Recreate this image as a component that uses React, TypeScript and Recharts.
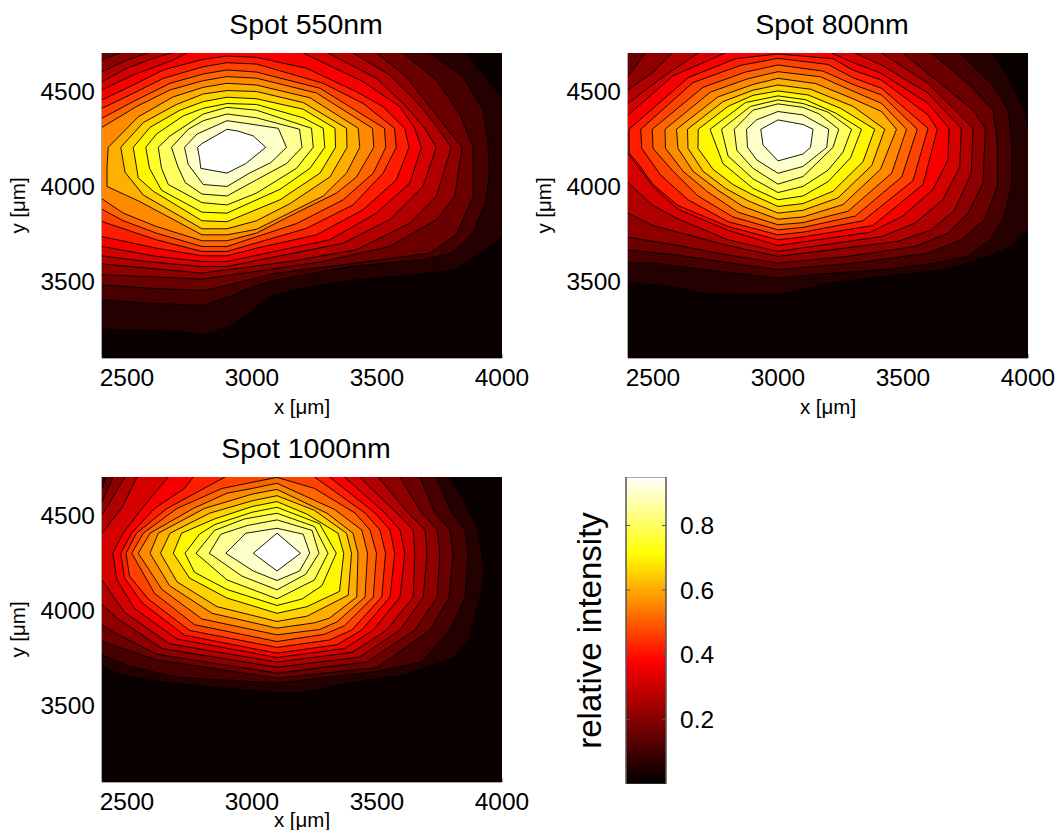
import { ScatterChart, Scatter, XAxis, YAxis, BarChart, Bar } from "recharts";

type Ring = number[][];

const FONT = "'Liberation Sans', Arial, sans-serif";
const X_TICKS = [2500, 3000, 3500, 4000];
const Y_TICKS = [3500, 4000, 4500];
const BAR_TICKS = [0.2, 0.4, 0.6, 0.8];

// band colours, outside of the lowest contour first
const BANDS = [
  "#0a0000", "#240000", "#470000", "#6a0000", "#8e0000", "#b10000", "#d50000",
  "#f80000", "#ff1d00", "#ff4200", "#ff6600", "#ff8a00", "#ffaf00", "#ffd300",
  "#fff800", "#ffff2a", "#ffff60", "#ffff95", "#ffffca", "#ffffff",
];

const plotArea: Ring = [[2300, 3000], [2300, 4800], [4100, 4800], [4100, 3000]];

// contours, lowest level first (points outside the box get clipped)
const spot550: Ring[] = [
  plotArea,
  [[2300, 4800], [3857, 4800], [3857, 4700], [3930, 4576], [3988, 4489], [4030, 4384], [4100, 4384], [4100, 3737], [4000, 3737], [3977, 3708], [3884, 3624], [3804, 3563], [3684, 3540], [3391, 3507], [3205, 3467], [3071, 3423], [3005, 3353], [2911, 3266], [2805, 3222], [2712, 3239], [2400, 3252], [2300, 3252]],
  [[2300, 4800], [3711, 4800], [3711, 4700], [3844, 4576], [3924, 4401], [3944, 4244], [3948, 4069], [3937, 3930], [3884, 3755], [3797, 3650], [3684, 3615], [3391, 3580], [3071, 3502], [2991, 3467], [2911, 3423], [2805, 3376], [2578, 3388], [2400, 3405], [2300, 3405]],
  [[2300, 4800], [3604, 4800], [3604, 4700], [3737, 4558], [3830, 4383], [3884, 4205], [3884, 3947], [3817, 3746], [3711, 3650], [3418, 3598], [3098, 3545], [2911, 3484], [2805, 3454], [2578, 3467], [2400, 3484], [2300, 3484]],
  [[2300, 4663], [2400, 4663], [2472, 4700], [2472, 4800], [3498, 4800], [3498, 4700], [3617, 4576], [3784, 4296], [3840, 4205], [3811, 3947], [3737, 3825], [3551, 3685], [3284, 3606], [2805, 3514], [2400, 3537], [2300, 3537]],
  [[2300, 4602], [2400, 4602], [2499, 4663], [2585, 4700], [2585, 4800], [3404, 4800], [3404, 4700], [3551, 4585], [3671, 4427], [3744, 4305], [3797, 4205], [3737, 3947], [3631, 3807], [3418, 3668], [3151, 3606], [2900, 3563], [2800, 3545], [2400, 3594], [2300, 3594]],
  [[2300, 4550], [2400, 4550], [2499, 4620], [2605, 4672], [2678, 4700], [2678, 4800], [3304, 4800], [3304, 4700], [3498, 4567], [3611, 4427], [3691, 4305], [3737, 4205], [3684, 4000], [3551, 3826], [3364, 3702], [2900, 3580], [2800, 3580], [2578, 3606], [2400, 3636], [2300, 3636]],
  [[2300, 4506], [2400, 4506], [2525, 4585], [2685, 4663], [2738, 4700], [2738, 4800], [3205, 4800], [3205, 4700], [3444, 4550], [3591, 4419], [3651, 4305], [3677, 4205], [3631, 4017], [3498, 3860], [3311, 3720], [2900, 3606], [2800, 3606], [2618, 3633], [2400, 3685], [2300, 3685]],
  [[2300, 4454], [2400, 4454], [2512, 4524], [2645, 4611], [2805, 4667], [2900, 4684], [3018, 4677], [3218, 4620], [3418, 4497], [3524, 4419], [3611, 4305], [3628, 4205], [3577, 4034], [3444, 3877], [3258, 3746], [3018, 3676], [2900, 3636], [2800, 3636], [2618, 3676], [2400, 3737], [2300, 3737]],
  [[2300, 4410], [2400, 4410], [2512, 4480], [2645, 4567], [2805, 4628], [2900, 4649], [3018, 4642], [3285, 4541], [3444, 4436], [3570, 4305], [3577, 4205], [3524, 4069], [3404, 3903], [3218, 3780], [2900, 3659], [2800, 3659], [2618, 3720], [2400, 3816], [2300, 3816]],
  [[2300, 4358], [2400, 4358], [2525, 4445], [2672, 4541], [2805, 4590], [2900, 4611], [3018, 4600], [3272, 4515], [3530, 4305], [3535, 4205], [3485, 4070], [3365, 3930], [3178, 3805], [2900, 3685], [2800, 3685], [2618, 3755], [2485, 3820], [2400, 3880], [2300, 3880]],
  [[2300, 4310], [2400, 4310], [2538, 4419], [2672, 4506], [2805, 4555], [2900, 4576], [3018, 4568], [3258, 4490], [3482, 4305], [3487, 4205], [3418, 4050], [3338, 3965], [3152, 3845], [3018, 3755], [2900, 3715], [2800, 3715], [2618, 3790], [2485, 3860], [2400, 3935], [2300, 3935]],
  [[2425, 4205], [2545, 4365], [2685, 4470], [2805, 4520], [2900, 4541], [3018, 4532], [3232, 4465], [3425, 4305], [3431, 4205], [3378, 4070], [3285, 3950], [3018, 3775], [2900, 3746], [2800, 3746], [2552, 3920], [2420, 4000], [2420, 4100]],
  [[2475, 4205], [2565, 4335], [2698, 4430], [2805, 4485], [2900, 4503], [3018, 4498], [3205, 4440], [3378, 4305], [3380, 4205], [3312, 4050], [3152, 3910], [3018, 3820], [2900, 3778], [2800, 3778], [2565, 3955], [2492, 4075]],
  [[2525, 4205], [2592, 4310], [2712, 4400], [2805, 4445], [2900, 4468], [3018, 4460], [3205, 4405], [3332, 4305], [3334, 4205], [3272, 4070], [3112, 3930], [2900, 3815], [2800, 3820], [2605, 3975], [2545, 4045]],
  [[2575, 4205], [2618, 4275], [2725, 4370], [2805, 4410], [2900, 4435], [3018, 4430], [3205, 4360], [3285, 4305], [3291, 4205], [3232, 4095], [3112, 3985], [2900, 3860], [2800, 3865], [2638, 3980], [2590, 4095]],
  [[2625, 4205], [2672, 4265], [2805, 4380], [2900, 4415], [3018, 4400], [3238, 4305], [3245, 4205], [3178, 4095], [3018, 3965], [2900, 3903], [2800, 3915], [2665, 4010], [2638, 4095]],
  [[2678, 4205], [2745, 4300], [2805, 4345], [2900, 4380], [3018, 4360], [3190, 4300], [3200, 4205], [3138, 4120], [3018, 4035], [2900, 3950], [2800, 3960], [2733, 4020], [2703, 4105]],
  [[2730, 4205], [2780, 4275], [2900, 4345], [2980, 4330], [3105, 4305], [3138, 4205], [3075, 4125], [2990, 4070], [2900, 4000], [2805, 4010], [2745, 4115]],
  [[2782, 4205], [2800, 4225], [2900, 4300], [2945, 4290], [3005, 4265], [3055, 4205], [2975, 4120], [2900, 4070], [2795, 4095], [2790, 4150]],
];

const spot800: Ring[] = [
  plotArea,
  [[2300, 4800], [3860, 4800], [3860, 4700], [3933, 4541], [3980, 4419], [4000, 4315], [4100, 4315], [4100, 3772], [4000, 3772], [3933, 3685], [3840, 3633], [3680, 3563], [3414, 3528], [3214, 3493], [3000, 3432], [2708, 3437], [2614, 3467], [2508, 3484], [2400, 3493], [2300, 3493]],
  [[2300, 4800], [3727, 4800], [3727, 4700], [3853, 4541], [3920, 4401], [3936, 4209], [3933, 4000], [3900, 3825], [3847, 3720], [3760, 3633], [3627, 3598], [3414, 3563], [3214, 3545], [3000, 3519], [2708, 3563], [2501, 3598], [2400, 3598], [2300, 3598]],
  [[2300, 4800], [3613, 4800], [3613, 4700], [3760, 4541], [3860, 4401], [3877, 4244], [3877, 4000], [3827, 3825], [3733, 3720], [3600, 3650], [3307, 3598], [3000, 3563], [2800, 3600], [2600, 3640], [2400, 3667], [2300, 3667]],
  [[2300, 4576], [2400, 4576], [2468, 4700], [2468, 4800], [3500, 4800], [3500, 4700], [3600, 4593], [3780, 4401], [3829, 4305], [3820, 4017], [3760, 3860], [3680, 3755], [3547, 3685], [3280, 3633], [3000, 3598], [2800, 3640], [2600, 3690], [2400, 3734], [2300, 3734]],
  [[2300, 4506], [2400, 4506], [2495, 4593], [2575, 4700], [2575, 4800], [3414, 4800], [3414, 4700], [3600, 4541], [3780, 4305], [3773, 4069], [3707, 3877], [3614, 3772], [3480, 3712], [3000, 3633], [2800, 3690], [2600, 3760], [2500, 3795], [2400, 3860], [2300, 3860]],
  [[2300, 4436], [2400, 4436], [2540, 4575], [2681, 4700], [2681, 4800], [3307, 4800], [3307, 4700], [3414, 4637], [3600, 4490], [3733, 4305], [3727, 4103], [3660, 3930], [3547, 3807], [3414, 3737], [3000, 3659], [2800, 3720], [2600, 3830], [2500, 3900], [2400, 4020], [2300, 4020]],
  [[2300, 4375], [2400, 4375], [2580, 4580], [2788, 4700], [2788, 4800], [3214, 4800], [3214, 4700], [3300, 4650], [3414, 4593], [3600, 4436], [3684, 4305], [3680, 4140], [3620, 3985], [3500, 3845], [3370, 3760], [3000, 3690], [2800, 3770], [2600, 3880], [2500, 4000], [2400, 4175], [2300, 4175]],
  [[2404, 4300], [2640, 4570], [2830, 4670], [3000, 4695], [3220, 4670], [3300, 4610], [3414, 4558], [3600, 4375], [3637, 4300], [3580, 4010], [3380, 3795], [3100, 3735], [3000, 3720], [2800, 3790], [2600, 3900], [2500, 4010], [2440, 4120], [2404, 4175]],
  [[2451, 4300], [2660, 4545], [2850, 4635], [3000, 4672], [3200, 4640], [3300, 4570], [3414, 4515], [3600, 4305], [3540, 4030], [3340, 3820], [3100, 3760], [3000, 3746], [2800, 3815], [2640, 3930], [2530, 4060], [2455, 4200]],
  [[2497, 4300], [2700, 4520], [2870, 4600], [3000, 4637], [3180, 4605], [3300, 4535], [3414, 4480], [3557, 4300], [3495, 4050], [3310, 3845], [3100, 3785], [3000, 3772], [2820, 3840], [2680, 3950], [2580, 4080], [2500, 4200]],
  [[2548, 4300], [2730, 4495], [2880, 4565], [3000, 4602], [3170, 4575], [3300, 4500], [3414, 4436], [3514, 4300], [3455, 4070], [3280, 3870], [3100, 3810], [3000, 3799], [2840, 3865], [2720, 3970], [2620, 4080], [2550, 4200]],
  [[2594, 4300], [2760, 4470], [2900, 4535], [3000, 4567], [3150, 4540], [3300, 4460], [3414, 4393], [3474, 4300], [3410, 4090], [3260, 3905], [3100, 3840], [3000, 3828], [2860, 3895], [2760, 3980], [2660, 4080], [2600, 4200]],
  [[2638, 4300], [2780, 4445], [2900, 4505], [3000, 4532], [3130, 4510], [3300, 4420], [3427, 4300], [3375, 4110], [3240, 3940], [3100, 3875], [3000, 3860], [2880, 3925], [2790, 3990], [2700, 4080], [2640, 4200]],
  [[2681, 4300], [2800, 4420], [2900, 4478], [3000, 4501], [3120, 4480], [3250, 4410], [3387, 4300], [3340, 4130], [3220, 3975], [3100, 3910], [3000, 3895], [2900, 3955], [2820, 4010], [2740, 4090], [2680, 4200]],
  [[2728, 4300], [2870, 4440], [3000, 4475], [3110, 4455], [3230, 4385], [3334, 4300], [3290, 4150], [3200, 4025], [3100, 3950], [3000, 3930], [2900, 3990], [2780, 4120]],
  [[2774, 4300], [2890, 4420], [3000, 4454], [3100, 4435], [3200, 4390], [3294, 4300], [3260, 4180], [3200, 4085], [3100, 4000], [3000, 3968], [2900, 4040], [2800, 4160]],
  [[2825, 4300], [2900, 4400], [3000, 4433], [3100, 4415], [3165, 4380], [3243, 4300], [3220, 4205], [3100, 4052], [3000, 4012], [2900, 4095], [2835, 4190]],
  [[2874, 4300], [2915, 4350], [3000, 4393], [3100, 4375], [3203, 4300], [3195, 4205], [3100, 4105], [3000, 4069], [2915, 4139], [2878, 4205]],
  [[2931, 4300], [3000, 4349], [3100, 4325], [3140, 4300], [3130, 4205], [3100, 4170], [3000, 4134], [2940, 4217]],
];

const spot1000: Ring[] = [
  plotArea,
  [[2300, 4800], [3790, 4800], [3790, 4700], [3844, 4588], [3905, 4422], [3930, 4204], [3912, 4070], [3870, 3854], [3804, 3750], [3617, 3662], [3417, 3627], [3285, 3592], [3205, 3570], [3100, 3570], [2885, 3592], [2618, 3627], [2485, 3659], [2400, 3706], [2300, 3706]],
  [[2300, 4800], [3737, 4800], [3737, 4700], [3799, 4511], [3852, 4422], [3864, 4300], [3852, 4070], [3792, 3897], [3680, 3730], [3500, 3680], [3100, 3619], [2700, 3650], [2500, 3710], [2400, 3767], [2300, 3767]],
  [[2300, 4640], [2400, 4640], [2445, 4800], [3672, 4800], [3672, 4700], [3732, 4511], [3792, 4422], [3804, 4300], [3789, 4070], [3712, 3897], [3500, 3700], [3100, 3645], [2620, 3740], [2400, 3837], [2300, 3837]],
  [[2300, 4570], [2400, 4570], [2445, 4700], [2445, 4800], [3592, 4800], [3592, 4700], [3679, 4511], [3741, 4422], [3751, 4300], [3741, 4070], [3652, 3897], [3460, 3730], [3100, 3671], [2620, 3770], [2440, 3890], [2400, 3925], [2300, 3925]],
  [[2300, 4500], [2400, 4500], [2492, 4700], [2492, 4800], [3505, 4800], [3505, 4700], [3625, 4511], [3692, 4422], [3700, 4300], [3685, 4070], [3592, 3897], [3430, 3755], [3100, 3702], [2640, 3800], [2460, 3960], [2400, 4030], [2300, 4030]],
  [[2300, 4405], [2400, 4405], [2480, 4540], [2540, 4700], [2540, 4800], [3430, 4800], [3430, 4700], [3579, 4511], [3645, 4422], [3651, 4300], [3645, 4070], [3539, 3897], [3400, 3780], [3100, 3729], [2670, 3825], [2490, 3990], [2400, 4160], [2300, 4160]],
  [[2443, 4300], [2485, 4405], [2560, 4535], [2665, 4700], [2665, 4800], [3370, 4800], [3370, 4700], [3532, 4511], [3592, 4422], [3611, 4300], [3592, 4070], [3485, 3897], [3370, 3800], [3100, 3753], [2700, 3850], [2530, 4010], [2460, 4160]],
  [[2475, 4300], [2518, 4405], [2610, 4535], [2730, 4640], [2765, 4700], [2765, 4800], [3310, 4800], [3310, 4700], [3492, 4511], [3552, 4422], [3571, 4300], [3552, 4070], [3439, 3897], [3340, 3820], [3100, 3776], [2730, 3870], [2560, 4040], [2490, 4170]],
  [[2496, 4300], [2538, 4405], [2660, 4535], [2780, 4620], [2892, 4700], [2892, 4800], [3250, 4800], [3250, 4700], [3452, 4511], [3512, 4422], [3534, 4300], [3519, 4070], [3399, 3897], [3310, 3845], [3100, 3806], [2750, 3895], [2585, 4060], [2510, 4180]],
  [[2519, 4300], [2565, 4405], [2700, 4535], [2880, 4640], [3000, 4672], [3100, 4698], [3250, 4640], [3412, 4511], [3472, 4422], [3498, 4300], [3485, 4070], [3370, 3920], [3290, 3875], [3100, 3837], [2770, 3925], [2610, 4090]],
  [[2545, 4300], [2592, 4405], [2765, 4535], [2900, 4615], [3000, 4640], [3100, 4667], [3330, 4530], [3439, 4422], [3462, 4300], [3452, 4070], [3340, 3940], [3270, 3900], [3100, 3872], [2800, 3955], [2640, 4110]],
  [[2592, 4300], [2625, 4405], [2810, 4535], [3000, 4610], [3100, 4635], [3300, 4510], [3404, 4405], [3424, 4300], [3419, 4070], [3310, 3960], [3250, 3935], [3100, 3907], [2840, 3985], [2670, 4130]],
  [[2634, 4300], [2672, 4405], [2830, 4510], [3000, 4575], [3100, 4602], [3250, 4525], [3378, 4405], [3398, 4300], [3385, 4080], [3220, 3970], [3100, 3942], [2860, 4020], [2700, 4150]],
  [[2685, 4300], [2718, 4405], [2850, 4480], [3000, 4545], [3100, 4571], [3220, 4505], [3344, 4405], [3367, 4300], [3350, 4100], [3220, 4020], [3100, 3985], [2900, 4065], [2750, 4170]],
  [[2732, 4300], [2790, 4400], [2850, 4450], [3000, 4515], [3100, 4541], [3270, 4455], [3337, 4300], [3280, 4130], [3200, 4060], [3100, 4026], [2900, 4110], [2770, 4200]],
  [[2776, 4300], [2850, 4420], [2970, 4480], [3100, 4510], [3250, 4440], [3304, 4300], [3250, 4160], [3100, 4061], [2900, 4160]],
  [[2829, 4300], [2875, 4400], [2980, 4445], [3100, 4475], [3240, 4420], [3268, 4300], [3215, 4190], [3100, 4108], [2960, 4180]],
  [[2895, 4300], [2975, 4405], [3100, 4431], [3205, 4400], [3231, 4300], [3190, 4207], [3100, 4157], [3005, 4207]],
  [[3005, 4300], [3100, 4405], [3194, 4300], [3100, 4207]],
];

const barTable = [{ name: "relative intensity", value: 0.95 }];

function toPoints(ring: Ring) {
  // repeat the first point so the outline closes
  return [...ring, ring[0]].map(([x, y]) => ({ x, y }));
}

const noDot = () => <g />;

function ContourPanel({
  title,
  rings,
  left,
  top,
  labelOffset,
}: {
  title: string;
  rings: Ring[];
  left: number;
  top: number;
  labelOffset: number;
}) {
  const tickStyle = { fill: "#000", fontSize: 24.5, fontFamily: FONT };
  const labelStyle = { fill: "#000", fontSize: 20.5, fontFamily: FONT };
  return (
    <div style={{ position: "absolute", left, top }}>
      <div
        style={{
          position: "absolute",
          left: 104,
          width: 400,
          top: 8,
          textAlign: "center",
          fontFamily: FONT,
          fontSize: 28.5,
          lineHeight: "32px",
        }}
      >
        {title}
      </div>
      <ScatterChart
        width={529}
        height={425}
        margin={{ top: 53, right: 29, bottom: 0, left: 0 }}
      >
        <XAxis
          type="number"
          dataKey="x"
          domain={[2400, 4000]}
          ticks={X_TICKS}
          allowDataOverflow
          height={67}
          tick={tickStyle}
          tickSize={-4}
          tickMargin={15}
          stroke="#555"
          label={{ value: "x [μm]", position: "insideBottom", offset: labelOffset, style: labelStyle }}
        />
        <XAxis
          xAxisId="top"
          orientation="top"
          type="number"
          domain={[2400, 4000]}
          ticks={X_TICKS}
          allowDataOverflow
          height={0}
          tickFormatter={() => ""}
          tickSize={-4}
          stroke="#555"
        />
        <YAxis
          type="number"
          dataKey="y"
          domain={[3100, 4700]}
          ticks={Y_TICKS}
          allowDataOverflow
          width={100}
          tick={tickStyle}
          tickSize={-4}
          tickMargin={11}
          stroke="#555"
          label={{ value: "y [μm]", angle: -90, position: "insideLeft", offset: 16, style: { ...labelStyle, textAnchor: "middle" } }}
        />
        <YAxis
          yAxisId="right"
          orientation="right"
          type="number"
          domain={[3100, 4700]}
          ticks={Y_TICKS}
          allowDataOverflow
          width={0}
          tickFormatter={() => ""}
          tickSize={-4}
          stroke="#555"
        />
        {rings.map((ring, i) => (
          <Scatter
            key={i}
            data={toPoints(ring)}
            shape={noDot}
            line={{ fill: BANDS[i], stroke: i === 0 ? "none" : "#000", strokeWidth: 0.9 }}
            isAnimationActive={false}
          />
        ))}
      </ScatterChart>
    </div>
  );
}

function ColorBar() {
  const tickStyle = { fill: "#000", fontSize: 24.5, fontFamily: FONT };
  return (
    <div style={{ position: "absolute", left: 566, top: 467 }}>
      <BarChart
        width={170}
        height={327}
        data={barTable}
        margin={{ top: 10, right: 0, bottom: 10, left: 0 }}
        barCategoryGap={0}
      >
        <defs>
          <linearGradient id="hot" x1="0" y1="1" x2="0" y2="0">
            <stop offset="0%" stopColor="#000000" />
            <stop offset="40%" stopColor="#ff0000" />
            <stop offset="75%" stopColor="#ffff00" />
            <stop offset="100%" stopColor="#ffffff" />
          </linearGradient>
        </defs>
        <XAxis dataKey="name" hide />
        <YAxis
          yAxisId="left"
          orientation="left"
          width={60}
          domain={[0, 0.95]}
          ticks={BAR_TICKS}
          tickFormatter={() => ""}
          tickSize={-4}
          stroke="#555"
          allowDataOverflow
          label={{
            value: "relative intensity",
            angle: -90,
            position: "insideLeft",
            offset: 23,
            style: { fill: "#000", fontSize: 33, fontFamily: FONT, textAnchor: "middle" },
          }}
        />
        <YAxis
          orientation="right"
          width={70}
          domain={[0, 0.95]}
          ticks={BAR_TICKS}
          tick={tickStyle}
          tickSize={-4}
          tickMargin={18}
          stroke="#555"
          allowDataOverflow
        />
        <Bar dataKey="value" fill="url(#hot)" stroke="#555" strokeWidth={1} isAnimationActive={false} />
      </BarChart>
    </div>
  );
}

export default function App() {
  return (
    <div style={{ position: "absolute", left: 0, top: 0, width: 1057, height: 830, overflow: "hidden", background: "#fff" }}>
      <ContourPanel title="Spot 550nm" rings={spot550} left={2} top={0} labelOffset={11} />
      <ContourPanel title="Spot 800nm" rings={spot800} left={528} top={0} labelOffset={11} />
      <ContourPanel title="Spot 1000nm" rings={spot1000} left={2} top={424} labelOffset={22} />
      <ColorBar />
    </div>
  );
}
